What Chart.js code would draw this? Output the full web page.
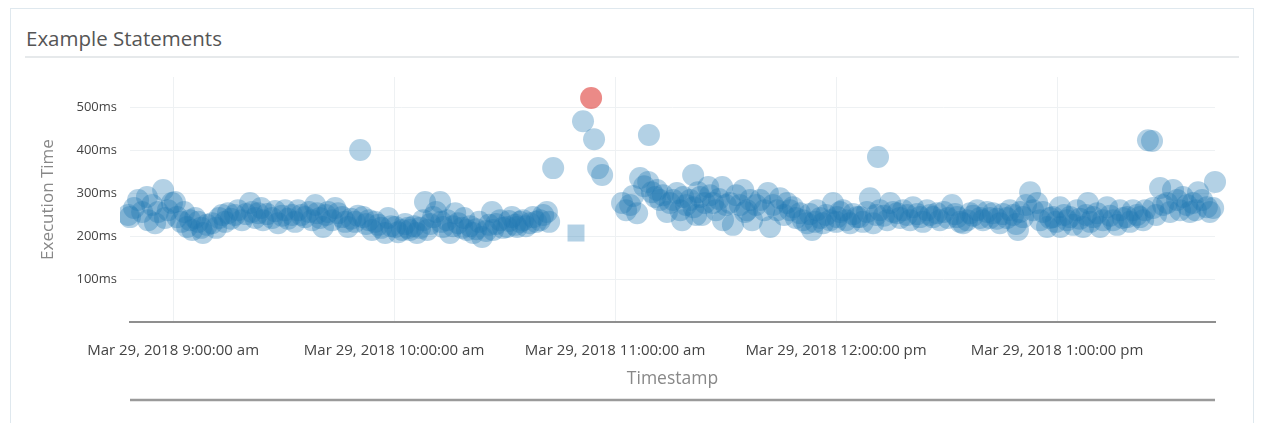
<!DOCTYPE html>
<html>
<head>
<meta charset="utf-8">
<script src="https://cdn.jsdelivr.net/npm/chart.js@4.4.1/dist/chart.umd.min.js"></script>
<style>
  html, body { margin: 0; padding: 0; background: #fff; }
  body { width: 1262px; height: 423px; position: relative; overflow: hidden; font-family: "Open Sans", sans-serif; }
  .panel { position: absolute; left: 10px; top: 8px; width: 1244px; height: 440px; border: 1px solid #dfe8ee; box-sizing: border-box; }
  .panel-title { position: absolute; left: 26px; top: 24px; font-size: 20.5px; color: #555; line-height: 28px; }
  .panel-rule { position: absolute; left: 25px; top: 56px; width: 1214px; height: 0; border-top: 2px solid #e6e9eb; }
  #chart { position: absolute; left: 0; top: 0; }
</style>
</head>
<body>
<div class="panel"></div>
<div class="panel-title">Example Statements</div>
<div class="panel-rule"></div>
<canvas id="chart" width="1262" height="423"></canvas>

<script>
// sample times, minutes after 9:00 am on Mar 29, 2018
const sampleMin = [
  -13.0, -12.2, -11.7, -10.6, -9.5, -8.4, -7.1, -6.8, -5.7, -4.9,
  -4.1, -2.7, -2.2, -1.4, -0.3, 0.5, 1.1, 2.2, 3.0, 3.8,
  4.6, 5.2, 6.0, 6.8, 7.6, 8.1, 9.2, 10.6, 11.7, 12.5,
  13.3, 14.1, 14.9, 15.7, 16.8, 17.6, 18.7, 19.8, 20.9, 21.4,
  22.3, 23.1, 23.9, 24.4, 25.5, 26.9, 27.7, 28.5, 29.6, 30.4,
  31.2, 32.3, 33.1, 33.9, 34.8, 35.8, 36.9, 37.7, 38.6, 39.1,
  39.9, 40.7, 41.5, 42.1, 43.2, 44.0, 44.8, 45.9, 46.7, 47.5,
  48.3, 49.4, 50.2, 50.8, 51.6, 52.4, 53.2, 54.0, 54.8, 55.7,
  56.5, 57.6, 58.4, 59.2, 60.3, 61.1, 62.2,
  63.0, 63.8, 64.3, 65.4, 66.2, 67.1, 67.9, 68.4, 69.0, 69.8,
  70.6, 71.4, 72.5, 72.8, 73.3, 74.4, 75.2, 76.0, 76.6, 77.4,
  78.5, 79.0, 79.8, 80.6, 81.5, 82.3, 83.1, 83.9, 85.0, 85.8,
  86.6, 86.9, 87.7, 88.8, 89.6, 90.7, 91.2, 92.0, 92.9, 93.4,
  94.2, 95.0, 95.8, 96.9, 97.7, 98.6, 99.6, 100.5, 101.5, 102.1,
  103.2, 111.3, 114.3, 115.4, 116.5,
  121.9, 123.0, 124.1, 124.9, 126.0, 126.8, 127.9, 129.0, 129.2, 130.0,
  130.9, 131.4, 132.2, 133.0, 134.1, 134.9, 135.8, 136.8, 137.7, 138.2,
  138.5, 139.3, 140.4, 141.2, 141.3, 142.0, 142.5, 143.1, 143.6, 144.4,
  145.3, 145.8, 146.6, 147.4, 148.2, 149.1, 149.3, 150.1, 151.2, 152.0,
  152.9, 153.9, 154.8, 155.3, 155.8, 156.7, 157.2, 158.3, 159.4, 160.5,
  161.5, 162.1, 162.9, 164.0, 164.8, 165.9, 166.7, 167.5, 168.3, 169.1,
  170.2, 171.0, 172.1, 172.9, 173.5, 174.3, 174.8, 175.7, 176.5, 177.3,
  178.4, 179.2, 180.0, 180.3, 181.1, 181.9, 182.7, 183.8, 184.6, 185.7,
  186.5, 187.3, 188.4, 189.2, 190.1, 190.9, 191.4, 191.9, 193.0, 193.9,
  194.7, 195.5, 196.6, 197.4, 198.2, 199.3, 200.1, 200.9, 202.0, 202.8,
  203.6, 204.7, 205.5, 206.3, 207.4, 208.2, 209.3, 210.4, 211.5, 212.3,
  212.9, 213.7, 214.5,
  215.6, 216.4, 217.2, 218.3, 219.1, 219.9, 221.0, 221.8, 222.6, 223.7,
  224.5, 225.3, 226.4, 227.2, 228.1, 228.9, 229.4, 230.0, 230.8, 231.6,
  232.7, 233.5, 234.6, 235.4, 236.2, 237.3, 238.1, 238.9, 239.7, 240.8,
  240.9, 241.9, 242.7, 243.5, 244.4, 245.4, 246.2, 247.1, 247.9, 248.4,
  249.0, 249.8, 250.9, 251.7, 252.5, 253.6, 254.4, 255.2, 256.3, 257.1,
  257.9, 259.0, 259.8, 260.6, 261.7, 262.5, 263.4, 263.9, 264.7, 265.8,
  266.1, 266.9, 268.0, 268.8, 269.9, 270.7, 271.5, 272.6, 273.4, 274.2,
  275.3, 276.1, 276.9, 277.7, 278.3, 279.4, 280.7, 281.5, 282.4, 282.9
];

// execution time of each sample, ms
const sampleMs = [
  279, 249, 244, 265, 284, 256, 291, 237, 272, 230,
  256, 307, 242, 260, 277, 279, 244, 233, 256, 221,
  237, 214, 242, 233, 219, 207, 226, 230, 219, 242,
  249, 233, 253, 240, 249, 260, 237, 251, 277, 256,
  242, 253, 265, 237, 251, 242, 258, 230, 247, 260,
  240, 249, 233, 260, 249, 244, 256, 237, 272, 253,
  242, 221, 249, 256, 237, 265, 253, 244, 233, 221,
  240, 233, 247, 400, 244, 228, 237, 214, 233, 226,
  219, 207, 242, 223, 221, 209, 214,
  228, 219, 214, 223, 207, 219, 237, 279, 214, 228,
  244, 256, 279, 233, 221, 237, 207, 223, 253, 230,
  219, 242, 214, 223, 207, 216, 233, 198, 212, 226,
  256, 214, 228, 237, 219, 221, 235, 244, 226, 221,
  233, 237, 223, 230, 244, 233, 237, 249, 256, 233,
  358, 467, 425, 358, 342,
  277, 260, 272, 293, 253, 335, 316, 326, 435, 302,
  291, 307, 284, 295, 256, 277, 284, 300, 260, 237,
  291, 272, 284, 342, 267, 249, 302, 291, 249, 277,
  314, 295, 277, 260, 286, 314, 237, 272, 277, 226,
  295, 272, 307, 256, 260, 284, 237, 272, 284, 260,
  300, 221, 272, 260, 288, 249, 277, 260, 267, 242,
  253, 237, 230, 251, 214, 233, 260, 242, 230, 249,
  237, 277, 233, 244, 256, 260, 237, 230, 251, 244,
  244, 233, 256, 288, 230, 249, 384, 260, 247, 237,
  277, 256, 253, 242, 260, 249, 237, 267, 251, 244,
  233, 260, 249, 244, 253, 237, 256, 242, 272, 251,
  244, 233, 230,
  237, 253, 247, 260, 242, 237, 256, 242, 253, 240,
  230, 251, 242, 260, 249, 228, 214, 256, 244, 272,
  302, 260, 277, 237, 256, 221, 242, 244, 233, 267,
  221, 249, 237, 244, 226, 260, 240, 221, 249, 277,
  233, 244, 253, 221, 237, 267, 247, 237, 226, 260,
  242, 244, 233, 260, 249, 244, 237, 260, 423, 421,
  265, 249, 312, 272, 277, 256, 307, 284, 260, 291,
  272, 256, 277, 260, 302, 284, 267, 256, 265, 326
];

// the statement flagged as slowest, and the single square-marked sample
const slowMin = [113.5];
const slowMs = [521];
const squareMin = [109.4];
const squareMs = [207];

const tickMin = [0, 60, 120, 180, 240];
const tickLabels = [
  "Mar 29, 2018 9:00:00 am",
  "Mar 29, 2018 10:00:00 am",
  "Mar 29, 2018 11:00:00 am",
  "Mar 29, 2018 12:00:00 pm",
  "Mar 29, 2018 1:00:00 pm"
];
const yTicks = [100, 200, 300, 400, 500];

function toPoints(xs, ys) {
  return xs.map((x, i) => ({ x: x, y: ys[i] }));
}

// second rule under the axis title
const lowerRule = {
  id: "lowerRule",
  afterDraw(chart) {
    const { ctx, chartArea } = chart;
    ctx.save();
    ctx.strokeStyle = "#9a9a9a";
    ctx.lineWidth = 2.5;
    ctx.beginPath();
    ctx.moveTo(chartArea.left, 400);
    ctx.lineTo(chartArea.right, 400);
    ctx.stroke();
    ctx.restore();
  }
};

const blue = "rgba(31, 119, 180, 0.34)";
const edgeClip = { left: 10, top: 20, right: 15, bottom: 0 };

new Chart(document.getElementById("chart"), {
  type: "scatter",
  data: {
    datasets: [
      {
        label: "Slowest",
        data: toPoints(slowMin, slowMs),
        backgroundColor: "rgba(222, 60, 55, 0.6)",
        pointRadius: 11,
        borderWidth: 0,
        clip: edgeClip
      },
      {
        label: "Square",
        data: toPoints(squareMin, squareMs),
        backgroundColor: blue,
        pointStyle: "rect",
        pointRadius: 12,
        borderWidth: 0,
        clip: edgeClip
      },
      {
        label: "Execution Time",
        data: toPoints(sampleMin, sampleMs),
        backgroundColor: blue,
        pointRadius: 11,
        borderWidth: 0,
        clip: edgeClip
      }
    ]
  },
  options: {
    responsive: false,
    animation: false,
    events: [],
    layout: { padding: { top: 77, right: 47, left: 38, bottom: 21 } },
    plugins: {
      legend: { display: false },
      tooltip: { enabled: false }
    },
    scales: {
      x: {
        type: "linear",
        min: -11.7,
        max: 282.9,
        afterFit(scale) { scale.height = 80; },
        afterBuildTicks(scale) { scale.ticks = tickMin.map(v => ({ value: v })); },
        grid: { color: "#eef1f3", drawTicks: false },
        border: { display: true, color: "#8f8f8f", width: 2 },
        ticks: {
          padding: 20,
          maxRotation: 0,
          autoSkip: false,
          color: "#444",
          font: { family: "Open Sans", size: 15 },
          callback: (v, i) => tickLabels[i]
        },
        title: {
          display: true,
          text: "Timestamp",
          color: "#888",
          padding: { top: 0, bottom: 12 },
          font: { family: "Open Sans", size: 17.5 }
        }
      },
      y: {
        min: 0,
        max: 570,
        afterFit(scale) { scale.width = 92; },
        afterBuildTicks(scale) { scale.ticks = yTicks.map(v => ({ value: v })); },
        grid: { color: "#eef1f3", drawTicks: false },
        border: { display: false },
        ticks: {
          padding: 13,
          color: "#444",
          font: { family: "Open Sans", size: 13 },
          callback: v => v + "ms"
        },
        title: {
          display: true,
          text: "Execution Time",
          color: "#888",
          padding: 0,
          font: { family: "Open Sans", size: 17 }
        }
      }
    }
  },
  plugins: [lowerRule]
});
</script>
</body>
</html>
